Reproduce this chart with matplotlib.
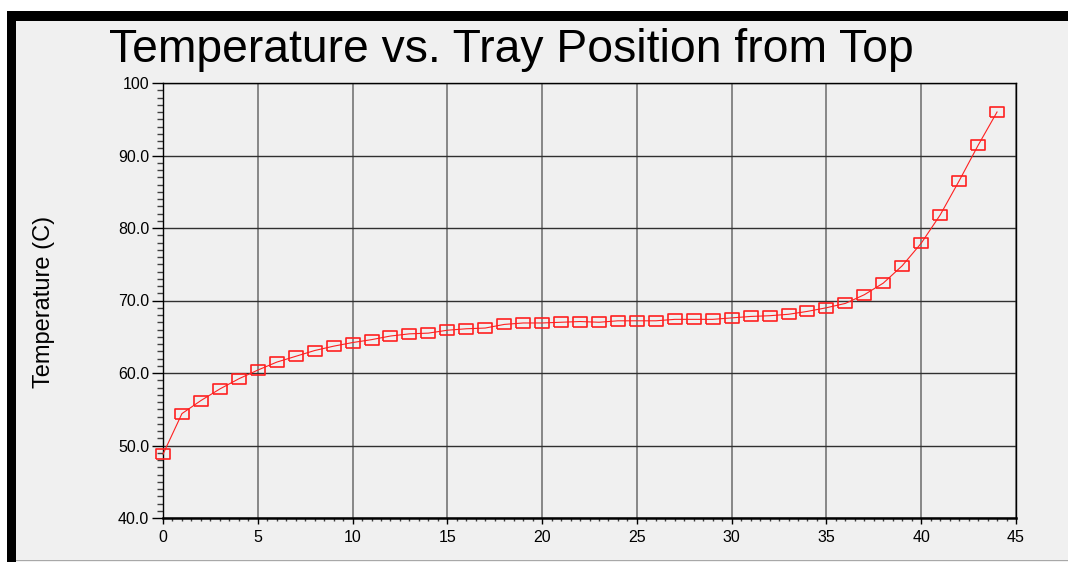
import matplotlib
matplotlib.use('Agg')
import matplotlib.pyplot as plt
from matplotlib.patches import Rectangle
from matplotlib.ticker import MultipleLocator

plt.rcParams['font.family'] = ['Liberation Sans', 'DejaVu Sans']

trays = list(range(45))
temps = [48.8, 54.4, 56.2, 57.8, 59.2, 60.4, 61.5, 62.3, 63.1, 63.7,
         64.2, 64.6, 65.1, 65.4, 65.5, 65.9, 66.1, 66.2, 66.7, 66.9,
         66.9, 67.0, 67.1, 67.0, 67.2, 67.2, 67.2, 67.4, 67.4, 67.4,
         67.6, 67.8, 67.9, 68.1, 68.5, 69.0, 69.6, 70.8, 72.4, 74.8,
         77.9, 81.8, 86.5, 91.4, 96.0]
ytick_vals = [40, 50, 60, 70, 80, 90, 100]
ytick_labels = ['40.0', '50.0', '60.0', '70.0', '80.0', '90.0', '100']
xtick_vals = [0, 5, 10, 15, 20, 25, 30, 35, 40, 45]

W, H = 1068, 562
fig = plt.figure(figsize=(W / 100, H / 100), dpi=100, facecolor='white')

# window-like frame
fig.patches.append(Rectangle((7 / W, 0), 1 - 7 / W, 1 - 11 / H, transform=fig.transFigure,
                             facecolor='#f0f0f0', edgecolor='none', zorder=-10))
fig.patches.append(Rectangle((7 / W, 1 - 21 / H), 1 - 7 / W, 10 / H, transform=fig.transFigure,
                             facecolor='black', edgecolor='none', zorder=-9))
fig.patches.append(Rectangle((7 / W, 0), 9 / W, 1 - 11 / H, transform=fig.transFigure,
                             facecolor='black', edgecolor='none', zorder=-9))
fig.patches.append(Rectangle((16 / W, 1 / H), 1 - 16 / W, 1.5 / H, transform=fig.transFigure,
                             facecolor='#a8a8a8', edgecolor='none', zorder=-9))

ax = fig.add_axes([163 / W, 1 - 518 / H, (1016 - 163) / W, (518 - 83) / H])
ax.set_facecolor('#f0f0f0')

rect_marker = [(-0.7, -0.5), (0.7, -0.5), (0.7, 0.5), (-0.7, 0.5), (-0.7, -0.5)]
ax.plot(trays, temps, color='#ff2020', lw=0.8, marker=rect_marker, markersize=10,
        markerfacecolor='none', markeredgecolor='#ff2020', markeredgewidth=1.2,
        zorder=3, clip_on=False)

ax.set_xlim(0, 45)
ax.set_ylim(40, 100)
ax.set_xticks(xtick_vals)
ax.set_yticks(ytick_vals, ytick_labels)
ax.xaxis.set_minor_locator(MultipleLocator(0.5))
ax.yaxis.set_minor_locator(MultipleLocator(1))

ax.tick_params(axis='both', which='major', labelsize=11.5, colors='black', width=1)
ax.tick_params(axis='y', which='major', length=8, pad=2)
ax.tick_params(axis='y', which='minor', length=4, width=1, color='#404040')
ax.tick_params(axis='x', which='major', length=4, pad=5)
ax.tick_params(axis='x', which='minor', length=2.5, width=1, color='#404040')

ax.xaxis.grid(True, which='major', color='#7f7f7f', lw=1.3)
ax.yaxis.grid(True, which='major', color='#303030', lw=1.0)
ax.set_axisbelow(True)

for side in ['top', 'right']:
    ax.spines[side].set_linewidth(1.0)
ax.spines['bottom'].set_linewidth(1.8)
ax.spines['left'].set_linewidth(1.0)

fig.text(511 / W, 1 - 62 / H, 'Temperature vs. Tray Position from Top',
         fontsize=33.3, ha='center', va='baseline')
fig.text(44 / W, 1 - 302 / H, 'Temperature (C)', fontsize=17, rotation=90,
         ha='center', va='center')

fig.savefig('out.png', dpi=100, facecolor=fig.get_facecolor())
